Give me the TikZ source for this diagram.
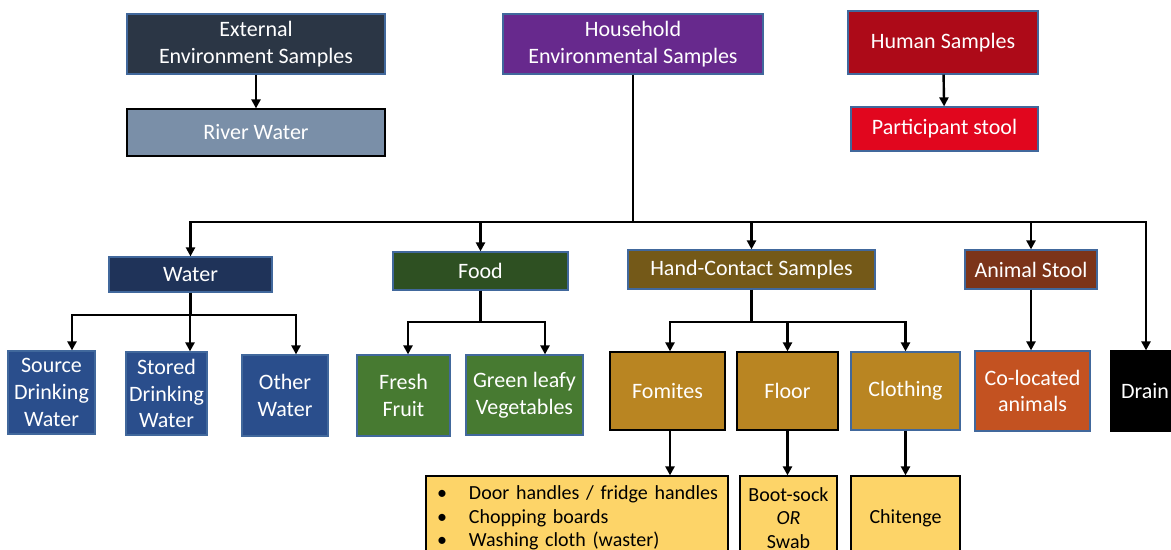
\documentclass[tikz,border=0pt]{standalone}
\usepackage{fontspec}
\setmainfont{Carlito}
\usetikzlibrary{arrows.meta,calc}

\definecolor{extcol}{HTML}{2B3645}
\definecolor{rivercol}{HTML}{7A8FA8}
\definecolor{housecol}{HTML}{67298D}
\definecolor{humancol}{HTML}{AD0A18}
\definecolor{partcol}{HTML}{E1061E}
\definecolor{watercol}{HTML}{1F3359}
\definecolor{wsubcol}{HTML}{2A4E8C}
\definecolor{foodcol}{HTML}{2E5022}
\definecolor{fsubcol}{HTML}{477A31}
\definecolor{handcol}{HTML}{745918}
\definecolor{hsubcol}{HTML}{B98522}
\definecolor{animcol}{HTML}{7C3419}
\definecolor{colocol}{HTML}{C35221}
\definecolor{listcol}{HTML}{FDD468}
\definecolor{edgecol}{HTML}{41689C}

\newcommand{\listitem}[1]{\makebox[18.5pt][l]{\hspace{2.5pt}\textbullet}#1}

\begin{document}
\begin{tikzpicture}[x=0.5pt, y=-0.5pt,
    sbox/.style={rectangle, draw=edgecol, line width=0.6pt, text=white, align=center,
        inner sep=0pt, font=\fontsize{11}{13.4}\selectfont},
    dbox/.style={sbox, draw=black},
    lbox/.style={dbox, fill=listcol, text=black, font=\fontsize{10}{11.8}\selectfont},
    arr/.style={line width=1.2pt, -{Triangle[width=4.5pt,length=4.5pt]}},
    link/.style={line width=1.2pt}]
    \useasboundingbox (0,0) rectangle (1171,550);
    \clip (0,0) rectangle (1171,550);

    % top row
    \node[sbox, fill=extcol, minimum width=129pt, minimum height=30pt] (ext) at (256,44) {External\\Environment Samples};
    \node[dbox, fill=rivercol, minimum width=129pt, minimum height=23.5pt] (river) at (256,132.5) {River Water};
    \node[sbox, fill=housecol, minimum width=130pt, minimum height=30pt] (house) at (633,44) {Household\\Environmental Samples};
    \node[sbox, fill=humancol, minimum width=95pt, minimum height=31.5pt] (human) at (943,42.5) {Human Samples};
    \node[sbox, fill=partcol, minimum width=93.5pt, minimum height=22pt] (part) at (944.5,129) {Participant stool};

    % household groups
    \node[sbox, fill=watercol, minimum width=81.5pt, minimum height=17.5pt] (water) at (190.5,274.5) {Water};
    \node[sbox, fill=foodcol, minimum width=87.5pt, minimum height=19pt] (food) at (480.5,271) {Food};
    \node[sbox, fill=handcol, minimum width=123.5pt, minimum height=19.5pt] (hand) at (751.5,269.5) {Hand-Contact Samples};
    \node[sbox, fill=animcol, minimum width=66pt, minimum height=19.5pt] (anim) at (1031,269.5) {Animal Stool};
    \node[dbox, fill=black, minimum width=35pt, minimum height=40pt, text width=33pt, align=left] (drain) at (1146,391) {\hspace*{4pt}Drain};

    % sample types
    \node[sbox, fill=wsubcol, minimum width=43.5pt, minimum height=41.5pt] (src) at (51.5,392.5) {Source\\Drinking\\Water};
    \node[sbox, fill=wsubcol, minimum width=40.5pt, minimum height=41.5pt] (stored) at (166.5,393.5) {Stored\\Drinking\\Water};
    \node[sbox, fill=wsubcol, minimum width=43pt, minimum height=40.5pt] (other) at (285,395.5) {Other\\Water};
    \node[sbox, fill=fsubcol, minimum width=46.5pt, minimum height=40.5pt] (fruit) at (403.5,395.5) {Fresh\\Fruit};
    \node[sbox, fill=fsubcol, minimum width=58.5pt, minimum height=40pt] (leafy) at (524.5,395) {Green leafy\\Vegetables};
    \node[dbox, fill=hsubcol, minimum width=57.5pt, minimum height=39pt] (fomites) at (667.5,391) {Fomites};
    \node[dbox, fill=hsubcol, minimum width=50.5pt, minimum height=39pt] (floor) at (787.5,391) {Floor};
    \node[sbox, fill=hsubcol, minimum width=54.5pt, minimum height=39pt] (cloth) at (905.5,391) {Clothing};
    \node[sbox, fill=colocol, minimum width=57.5pt, minimum height=40pt] (coloc) at (1032.5,391) {Co-located\\animals};

    % bottom row
    \node[lbox, minimum width=151pt, minimum height=42pt, text width=145pt, align=left] (fomlist) at (577,518)
        {\listitem{Door handles / fridge handles}\\
         \listitem{Chopping boards}\\
         \listitem{Washing cloth (waster)}};
    \node[lbox, minimum width=48.5pt, minimum height=42pt] (boot) at (788.5,518) {Boot-sock\\\textit{OR}\\Swab};
    \node[lbox, minimum width=54.5pt, minimum height=42pt] (chit) at (905.5,518) {Chitenge};

    % connectors
    \draw[arr] (ext) -- (river);
    \draw[arr] (human) -- (part);

    \coordinate (hj) at (633,222);
    \draw[link] (house) -- (hj);
    \draw[arr] (hj) -| (water);
    \draw[arr] (hj) -| (food);
    \draw[arr] (hj) -| (hand);
    \draw[arr] (hj) -| (anim);
    \draw[arr] (hj) -| (drain);

    \coordinate (wj) at (190.5,315);
    \draw[link] (water) -- (wj);
    \draw[arr] (wj) -| ($(src.north)+(20.5,0)$);
    \draw[arr] (wj) -| ($(stored.north)+(23.5,0)$);
    \draw[arr] (wj) -| ($(other.north)+(11,0)$);

    \coordinate (fj) at (480.5,322);
    \draw[link] (food) -- (fj);
    \draw[arr] (fj) -| ($(fruit.north)+(4.5,0)$);
    \draw[arr] (fj) -| ($(leafy.north)+(20.5,0)$);

    \coordinate (cj) at (751.5,322);
    \draw[link] (hand) -- (cj);
    \draw[arr] (cj) -| ($(fomites.north)+(2.5,0)$);
    \draw[arr] (cj) -| (floor);
    \draw[arr] (cj) -| (cloth);

    \draw[arr] (anim) -- (anim.south |- coloc.north);

    \coordinate (fa) at ($(fomites.south)+(2.5,0)$);
    \draw[arr] (fa) -- (fa |- fomlist.north);
    \draw[arr] (floor) -- (floor.south |- boot.north);
    \draw[arr] (cloth) -- (chit);
\end{tikzpicture}
\end{document}
